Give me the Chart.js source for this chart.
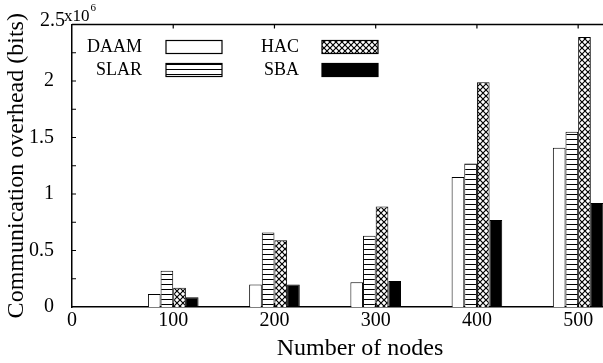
<!DOCTYPE html>
<html><head><meta charset="utf-8">
<script src="https://cdn.jsdelivr.net/npm/chart.js@4"></script>
<style>
html,body{margin:0;padding:0;background:#fff;overflow:hidden;}
#wrap{position:relative;width:648px;height:363px;}
</style></head><body>
<div id="wrap"><canvas id="c"></canvas></div>
<script>
// ---- data ----
const nodeCounts = [100, 200, 300, 400, 500];
const daamBits = [115000, 200000, 220000, 1150000, 1410000];
const slarBits = [320000, 660000, 630000, 1270000, 1550000];
const hacBits  = [170000, 590000, 890000, 1990000, 2390000];
const sbaBits  = [86000, 200000, 230000, 770000, 920000];
const seriesNames = ['DAAM', 'SLAR', 'HAC', 'SBA'];
const xTickValues = [0, 100, 200, 300, 400, 500];
const yTickLabels = ['0', '0.5', '1', '1.5', '2', '2.5'];
const yExpBase = 'x10', yExpPower = '6';
const xTitle = 'Number of nodes';
const yTitle = 'Communication overhead (bits)';

const FONT = "'Liberation Serif', 'Times New Roman', serif";
const canvas = document.getElementById('c');
const ctx0 = canvas.getContext('2d');

function makeStripe() {
  const c = document.createElement('canvas'); c.width = 8; c.height = 5;
  const g = c.getContext('2d');
  g.fillStyle = '#fff'; g.fillRect(0, 0, 8, 5);
  g.fillStyle = '#000'; g.fillRect(0, 4, 8, 1.3);
  return ctx0.createPattern(c, 'repeat');
}
function makeCross() {
  const c = document.createElement('canvas'); c.width = 6; c.height = 6;
  const g = c.getContext('2d');
  g.fillStyle = '#fff'; g.fillRect(0, 0, 6, 6);
  g.strokeStyle = '#000'; g.lineWidth = 1.2;
  g.beginPath();
  g.moveTo(-1, -1); g.lineTo(7, 7);
  g.moveTo(7, -1); g.lineTo(-1, 7);
  g.stroke();
  return ctx0.createPattern(c, 'repeat');
}
const fills = ['#ffffff', makeStripe(), makeCross(), '#000000'];
const seriesData = [daamBits, slarBits, hacBits, sbaBits];

const datasets = seriesNames.map((name, s) => ({
  label: name,
  data: nodeCounts.map((n, i) => ({ x: n, y: seriesData[s][i] })),
  backgroundColor: fills[s],
  borderColor: '#000',
  borderWidth: 1,
  borderSkipped: 'bottom',
  categoryPercentage: 0.5,
  barPercentage: 1.0
}));

const framePlugin = {
  id: 'frame',
  afterDraw(chart) {
    const { ctx, chartArea: a, scales } = chart;
    ctx.save();
    ctx.strokeStyle = '#000';
    ctx.lineWidth = 1.5;
    ctx.beginPath();
    ctx.moveTo(a.left, a.top); ctx.lineTo(a.right, a.top);
    ctx.stroke();
    ctx.lineWidth = 1.2;
    ctx.beginPath();
    scales.x.ticks.forEach(t => {
      if (t.value === 0) return;
      const px = scales.x.getPixelForValue(t.value);
      ctx.moveTo(px, a.bottom); ctx.lineTo(px, a.bottom - 4);
      ctx.moveTo(px, a.top); ctx.lineTo(px, a.top + 4);
    });
    scales.y.ticks.forEach(t => {
      if (t.value === 0 || t.value === scales.y.max) return;
      const py = scales.y.getPixelForValue(t.value);
      ctx.moveTo(a.left, py); ctx.lineTo(a.left + 4, py);
    });
    ctx.stroke();
    // top label with exponent for y axis
    ctx.fillStyle = '#000';
    ctx.textBaseline = 'alphabetic';
    ctx.textAlign = 'right';
    ctx.font = '20px ' + FONT;
    ctx.fillText(yTickLabels[yTickLabels.length - 1], a.left - 7, a.top + 1.5);
    ctx.textAlign = 'left';
    ctx.font = '17px ' + FONT;
    ctx.fillText(yExpBase, a.left - 8, a.top - 4);
    const w = ctx.measureText(yExpBase).width;
    ctx.font = '11px ' + FONT;
    ctx.fillText(yExpPower, a.left - 8 + w + 1, a.top - 14);
    ctx.restore();
  }
};

const legendPlugin = {
  id: 'boxLegend',
  afterDraw(chart) {
    const { ctx, chartArea: a } = chart;
    const items = chart.data.datasets;
    const cols = [{ textRight: 70, box: 94 }, { textRight: 227, box: 250 }];
    const rows = [{ boxTop: 16, textY: 23 }, { boxTop: 39, textY: 46 }];
    ctx.save();
    ctx.font = '18px ' + FONT;
    ctx.textAlign = 'right';
    ctx.textBaseline = 'middle';
    items.forEach((ds, i) => {
      const col = cols[Math.floor(i / 2)], row = rows[i % 2];
      ctx.fillStyle = '#000';
      ctx.fillText(ds.label, a.left + col.textRight, a.top + row.textY);
      const bx = a.left + col.box, by = a.top + row.boxTop;
      ctx.fillStyle = ds.backgroundColor;
      ctx.fillRect(bx, by, 56, 13);
      ctx.strokeStyle = '#000';
      ctx.lineWidth = 1.2;
      ctx.strokeRect(bx, by, 56, 13);
    });
    ctx.restore();
  }
};

new Chart(canvas, {
  type: 'bar',
  data: { datasets },
  plugins: [framePlugin, legendPlugin],
  options: {
    responsive: true,
    maintainAspectRatio: false,
    animation: false,
    devicePixelRatio: 1,
    layout: { padding: { top: 24.5, right: 0, left: 0, bottom: 0 } },
    plugins: { legend: { display: false }, tooltip: { enabled: false } },
    scales: {
      x: {
        type: 'linear',
        min: 0, max: 569,
        offset: false,
        grid: { display: false, drawTicks: false },
        border: { display: true, color: '#000', width: 1.5 },
        afterBuildTicks: s => { s.ticks = xTickValues.map(v => ({ value: v })); },
        afterFit: s => { s.height = 56; s.paddingLeft = 0; s.paddingRight = 0; },
        ticks: {
          color: '#000', font: { family: FONT, size: 20 },
          padding: 2, autoSkip: false, maxRotation: 0,
          callback: v => String(v)
        },
        title: {
          display: true, text: xTitle, color: '#000',
          font: { family: FONT, size: 24 }, padding: { top: 0, bottom: 0 }
        }
      },
      y: {
        min: 0, max: 2500000,
        grid: { display: false, drawTicks: false },
        border: { display: true, color: '#000', width: 1.5 },
        afterFit: s => { s.width = 72; s.paddingTop = 0; s.paddingBottom = 0; },
        ticks: {
          stepSize: 250000, autoSkip: false,
          color: '#000', font: { family: FONT, size: 20 }, padding: 18,
          callback: (v, i) => (i % 2 === 0 && i < 10 ? yTickLabels[i / 2] : '')
        },
        title: {
          display: true, text: yTitle, color: '#000',
          font: { family: FONT, size: 24 }, padding: { top: 2, bottom: 0 }
        }
      }
    }
  }
});
</script>
</body></html>
